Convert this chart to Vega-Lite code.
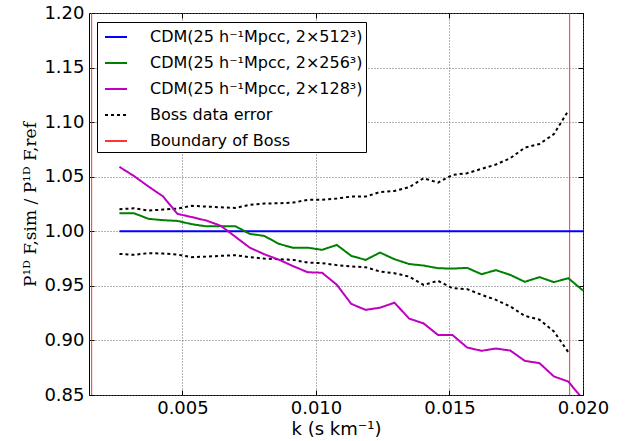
{
  "$schema": "https://vega.github.io/schema/vega-lite/v6.json",
  "width": 494,
  "height": 382,
  "autosize": {"type": "none"},
  "padding": {"left": 89, "top": 13, "right": 45, "bottom": 46},
  "background": "white",
  "config": {
    "view": {"stroke": "black", "strokeWidth": 1},
    "font": "DejaVu Sans",
    "axis": {
      "labelFont": "DejaVu Sans",
      "labelFontSize": 18,
      "labelColor": "black",
      "labelFlush": false,
      "labelOverlap": false,
      "domainColor": "black",
      "tickColor": "black",
      "gridColor": "#666666",
      "gridDash": [1, 2],
      "gridWidth": 1,
      "titleFontWeight": "normal",
      "titleColor": "black"
    }
  },
  "datasets": {
    "sim": [
      {"k":0.00264,"r":1,"s":"CDM(25 h⁻¹Mpcc, 2×512³)"},
      {"k":0.02000,"r":1,"s":"CDM(25 h⁻¹Mpcc, 2×512³)"},
      {"k":0.00264,"r":1.0166,"s":"CDM(25 h⁻¹Mpcc, 2×256³)"},
      {"k":0.00318,"r":1.0166,"s":"CDM(25 h⁻¹Mpcc, 2×256³)"},
      {"k":0.00373,"r":1.0114,"s":"CDM(25 h⁻¹Mpcc, 2×256³)"},
      {"k":0.00427,"r":1.0102,"s":"CDM(25 h⁻¹Mpcc, 2×256³)"},
      {"k":0.00481,"r":1.0095,"s":"CDM(25 h⁻¹Mpcc, 2×256³)"},
      {"k":0.00535,"r":1.0065,"s":"CDM(25 h⁻¹Mpcc, 2×256³)"},
      {"k":0.00590,"r":1.0045,"s":"CDM(25 h⁻¹Mpcc, 2×256³)"},
      {"k":0.00644,"r":1.0045,"s":"CDM(25 h⁻¹Mpcc, 2×256³)"},
      {"k":0.00698,"r":1.0047,"s":"CDM(25 h⁻¹Mpcc, 2×256³)"},
      {"k":0.00752,"r":0.9976,"s":"CDM(25 h⁻¹Mpcc, 2×256³)"},
      {"k":0.00806,"r":0.9958,"s":"CDM(25 h⁻¹Mpcc, 2×256³)"},
      {"k":0.00861,"r":0.9885,"s":"CDM(25 h⁻¹Mpcc, 2×256³)"},
      {"k":0.00915,"r":0.9848,"s":"CDM(25 h⁻¹Mpcc, 2×256³)"},
      {"k":0.00969,"r":0.9850,"s":"CDM(25 h⁻¹Mpcc, 2×256³)"},
      {"k":0.01023,"r":0.9830,"s":"CDM(25 h⁻¹Mpcc, 2×256³)"},
      {"k":0.01078,"r":0.9875,"s":"CDM(25 h⁻¹Mpcc, 2×256³)"},
      {"k":0.01132,"r":0.9775,"s":"CDM(25 h⁻¹Mpcc, 2×256³)"},
      {"k":0.01186,"r":0.9738,"s":"CDM(25 h⁻¹Mpcc, 2×256³)"},
      {"k":0.01240,"r":0.9805,"s":"CDM(25 h⁻¹Mpcc, 2×256³)"},
      {"k":0.01294,"r":0.9744,"s":"CDM(25 h⁻¹Mpcc, 2×256³)"},
      {"k":0.01349,"r":0.9700,"s":"CDM(25 h⁻¹Mpcc, 2×256³)"},
      {"k":0.01403,"r":0.9686,"s":"CDM(25 h⁻¹Mpcc, 2×256³)"},
      {"k":0.01457,"r":0.9662,"s":"CDM(25 h⁻¹Mpcc, 2×256³)"},
      {"k":0.01511,"r":0.9658,"s":"CDM(25 h⁻¹Mpcc, 2×256³)"},
      {"k":0.01566,"r":0.9665,"s":"CDM(25 h⁻¹Mpcc, 2×256³)"},
      {"k":0.01620,"r":0.9607,"s":"CDM(25 h⁻¹Mpcc, 2×256³)"},
      {"k":0.01674,"r":0.9644,"s":"CDM(25 h⁻¹Mpcc, 2×256³)"},
      {"k":0.01728,"r":0.9600,"s":"CDM(25 h⁻¹Mpcc, 2×256³)"},
      {"k":0.01782,"r":0.9537,"s":"CDM(25 h⁻¹Mpcc, 2×256³)"},
      {"k":0.01837,"r":0.9580,"s":"CDM(25 h⁻¹Mpcc, 2×256³)"},
      {"k":0.01891,"r":0.9534,"s":"CDM(25 h⁻¹Mpcc, 2×256³)"},
      {"k":0.01945,"r":0.9570,"s":"CDM(25 h⁻¹Mpcc, 2×256³)"},
      {"k":0.02000,"r":0.9457,"s":"CDM(25 h⁻¹Mpcc, 2×256³)"},
      {"k":0.00264,"r":1.0590,"s":"CDM(25 h⁻¹Mpcc, 2×128³)"},
      {"k":0.00318,"r":1.0507,"s":"CDM(25 h⁻¹Mpcc, 2×128³)"},
      {"k":0.00373,"r":1.0410,"s":"CDM(25 h⁻¹Mpcc, 2×128³)"},
      {"k":0.00427,"r":1.0320,"s":"CDM(25 h⁻¹Mpcc, 2×128³)"},
      {"k":0.00481,"r":1.0160,"s":"CDM(25 h⁻¹Mpcc, 2×128³)"},
      {"k":0.00535,"r":1.0130,"s":"CDM(25 h⁻¹Mpcc, 2×128³)"},
      {"k":0.00590,"r":1.0098,"s":"CDM(25 h⁻¹Mpcc, 2×128³)"},
      {"k":0.00644,"r":1.0050,"s":"CDM(25 h⁻¹Mpcc, 2×128³)"},
      {"k":0.00698,"r":0.9950,"s":"CDM(25 h⁻¹Mpcc, 2×128³)"},
      {"k":0.00752,"r":0.9850,"s":"CDM(25 h⁻¹Mpcc, 2×128³)"},
      {"k":0.00806,"r":0.9790,"s":"CDM(25 h⁻¹Mpcc, 2×128³)"},
      {"k":0.00861,"r":0.9740,"s":"CDM(25 h⁻¹Mpcc, 2×128³)"},
      {"k":0.00915,"r":0.9680,"s":"CDM(25 h⁻¹Mpcc, 2×128³)"},
      {"k":0.00969,"r":0.9625,"s":"CDM(25 h⁻¹Mpcc, 2×128³)"},
      {"k":0.01023,"r":0.9620,"s":"CDM(25 h⁻¹Mpcc, 2×128³)"},
      {"k":0.01078,"r":0.9510,"s":"CDM(25 h⁻¹Mpcc, 2×128³)"},
      {"k":0.01132,"r":0.9335,"s":"CDM(25 h⁻¹Mpcc, 2×128³)"},
      {"k":0.01186,"r":0.9280,"s":"CDM(25 h⁻¹Mpcc, 2×128³)"},
      {"k":0.01240,"r":0.9300,"s":"CDM(25 h⁻¹Mpcc, 2×128³)"},
      {"k":0.01294,"r":0.9346,"s":"CDM(25 h⁻¹Mpcc, 2×128³)"},
      {"k":0.01349,"r":0.9200,"s":"CDM(25 h⁻¹Mpcc, 2×128³)"},
      {"k":0.01403,"r":0.9156,"s":"CDM(25 h⁻¹Mpcc, 2×128³)"},
      {"k":0.01457,"r":0.9050,"s":"CDM(25 h⁻¹Mpcc, 2×128³)"},
      {"k":0.01511,"r":0.9050,"s":"CDM(25 h⁻¹Mpcc, 2×128³)"},
      {"k":0.01566,"r":0.8935,"s":"CDM(25 h⁻¹Mpcc, 2×128³)"},
      {"k":0.01620,"r":0.8905,"s":"CDM(25 h⁻¹Mpcc, 2×128³)"},
      {"k":0.01674,"r":0.8926,"s":"CDM(25 h⁻¹Mpcc, 2×128³)"},
      {"k":0.01728,"r":0.8907,"s":"CDM(25 h⁻¹Mpcc, 2×128³)"},
      {"k":0.01782,"r":0.8813,"s":"CDM(25 h⁻¹Mpcc, 2×128³)"},
      {"k":0.01837,"r":0.8792,"s":"CDM(25 h⁻¹Mpcc, 2×128³)"},
      {"k":0.01891,"r":0.8670,"s":"CDM(25 h⁻¹Mpcc, 2×128³)"},
      {"k":0.01945,"r":0.8623,"s":"CDM(25 h⁻¹Mpcc, 2×128³)"},
      {"k":0.02000,"r":0.8460,"s":"CDM(25 h⁻¹Mpcc, 2×128³)"}
    ],
    "boss": [
      {"k":0.00264,"r":1.0202,"g":"up","s":"Boss data error"},
      {"k":0.00318,"r":1.0211,"g":"up","s":"Boss data error"},
      {"k":0.00373,"r":1.0190,"g":"up","s":"Boss data error"},
      {"k":0.00427,"r":1.0199,"g":"up","s":"Boss data error"},
      {"k":0.00481,"r":1.0208,"g":"up","s":"Boss data error"},
      {"k":0.00535,"r":1.0233,"g":"up","s":"Boss data error"},
      {"k":0.00590,"r":1.0226,"g":"up","s":"Boss data error"},
      {"k":0.00644,"r":1.0220,"g":"up","s":"Boss data error"},
      {"k":0.00698,"r":1.0214,"g":"up","s":"Boss data error"},
      {"k":0.00752,"r":1.0242,"g":"up","s":"Boss data error"},
      {"k":0.00806,"r":1.0254,"g":"up","s":"Boss data error"},
      {"k":0.00861,"r":1.0257,"g":"up","s":"Boss data error"},
      {"k":0.00915,"r":1.0263,"g":"up","s":"Boss data error"},
      {"k":0.00969,"r":1.0288,"g":"up","s":"Boss data error"},
      {"k":0.01023,"r":1.0288,"g":"up","s":"Boss data error"},
      {"k":0.01078,"r":1.0300,"g":"up","s":"Boss data error"},
      {"k":0.01132,"r":1.0318,"g":"up","s":"Boss data error"},
      {"k":0.01186,"r":1.0318,"g":"up","s":"Boss data error"},
      {"k":0.01240,"r":1.0360,"g":"up","s":"Boss data error"},
      {"k":0.01294,"r":1.0370,"g":"up","s":"Boss data error"},
      {"k":0.01349,"r":1.0404,"g":"up","s":"Boss data error"},
      {"k":0.01403,"r":1.0486,"g":"up","s":"Boss data error"},
      {"k":0.01457,"r":1.0446,"g":"up","s":"Boss data error"},
      {"k":0.01511,"r":1.0516,"g":"up","s":"Boss data error"},
      {"k":0.01566,"r":1.0532,"g":"up","s":"Boss data error"},
      {"k":0.01620,"r":1.0572,"g":"up","s":"Boss data error"},
      {"k":0.01674,"r":1.0612,"g":"up","s":"Boss data error"},
      {"k":0.01728,"r":1.0670,"g":"up","s":"Boss data error"},
      {"k":0.01782,"r":1.0766,"g":"up","s":"Boss data error"},
      {"k":0.01837,"r":1.0800,"g":"up","s":"Boss data error"},
      {"k":0.01891,"r":1.0890,"g":"up","s":"Boss data error"},
      {"k":0.01945,"r":1.1105,"g":"up","s":"Boss data error"},
      {"k":0.00264,"r":0.9793,"g":"lo","s":"Boss data error"},
      {"k":0.00318,"r":0.9784,"g":"lo","s":"Boss data error"},
      {"k":0.00373,"r":0.9800,"g":"lo","s":"Boss data error"},
      {"k":0.00427,"r":0.9796,"g":"lo","s":"Boss data error"},
      {"k":0.00481,"r":0.9787,"g":"lo","s":"Boss data error"},
      {"k":0.00535,"r":0.9763,"g":"lo","s":"Boss data error"},
      {"k":0.00590,"r":0.9768,"g":"lo","s":"Boss data error"},
      {"k":0.00644,"r":0.9775,"g":"lo","s":"Boss data error"},
      {"k":0.00698,"r":0.9781,"g":"lo","s":"Boss data error"},
      {"k":0.00752,"r":0.9763,"g":"lo","s":"Boss data error"},
      {"k":0.00806,"r":0.9750,"g":"lo","s":"Boss data error"},
      {"k":0.00861,"r":0.9744,"g":"lo","s":"Boss data error"},
      {"k":0.00915,"r":0.9738,"g":"lo","s":"Boss data error"},
      {"k":0.00969,"r":0.9713,"g":"lo","s":"Boss data error"},
      {"k":0.01023,"r":0.9708,"g":"lo","s":"Boss data error"},
      {"k":0.01078,"r":0.9690,"g":"lo","s":"Boss data error"},
      {"k":0.01132,"r":0.9677,"g":"lo","s":"Boss data error"},
      {"k":0.01186,"r":0.9671,"g":"lo","s":"Boss data error"},
      {"k":0.01240,"r":0.9631,"g":"lo","s":"Boss data error"},
      {"k":0.01294,"r":0.9616,"g":"lo","s":"Boss data error"},
      {"k":0.01349,"r":0.9585,"g":"lo","s":"Boss data error"},
      {"k":0.01403,"r":0.9509,"g":"lo","s":"Boss data error"},
      {"k":0.01457,"r":0.9546,"g":"lo","s":"Boss data error"},
      {"k":0.01511,"r":0.9479,"g":"lo","s":"Boss data error"},
      {"k":0.01566,"r":0.9470,"g":"lo","s":"Boss data error"},
      {"k":0.01620,"r":0.9418,"g":"lo","s":"Boss data error"},
      {"k":0.01674,"r":0.9372,"g":"lo","s":"Boss data error"},
      {"k":0.01728,"r":0.9311,"g":"lo","s":"Boss data error"},
      {"k":0.01782,"r":0.9225,"g":"lo","s":"Boss data error"},
      {"k":0.01837,"r":0.9190,"g":"lo","s":"Boss data error"},
      {"k":0.01891,"r":0.9083,"g":"lo","s":"Boss data error"},
      {"k":0.01945,"r":0.8892,"g":"lo","s":"Boss data error"}
    ],
    "bound": [
      {"k":0.0016,"s":"Boundary of Boss"},
      {"k":0.0195,"s":"Boundary of Boss"}
    ]
  },
  "layer": [
    {
      "data": {"name": "bound"},
      "mark": {"type": "rule", "strokeWidth": 1},
      "encoding": {
        "x": {"field": "k", "type": "quantitative",
              "scale": {"domain": [0.0015, 0.020], "nice": false, "zero": false},
              "axis": {"orient": "top", "labels": false, "title": null, "grid": false, "domain": false,
                       "values": [0.005, 0.010, 0.015, 0.020], "tickSize": 5, "offset": -5}},
        "color": {"field": "s", "type": "nominal", "title": null,
                  "scale": {"domain": ["CDM(25 h⁻¹Mpcc, 2×512³)", "CDM(25 h⁻¹Mpcc, 2×256³)", "CDM(25 h⁻¹Mpcc, 2×128³)", "Boss data error", "Boundary of Boss"],
                            "range": ["#0000ff", "#008000", "#bf00bf", "#000000", "#ff3333"]}},
        "strokeDash": {"field": "s", "type": "nominal", "title": null,
                  "scale": {"domain": ["CDM(25 h⁻¹Mpcc, 2×512³)", "CDM(25 h⁻¹Mpcc, 2×256³)", "CDM(25 h⁻¹Mpcc, 2×128³)", "Boss data error", "Boundary of Boss"],
                            "range": [[1, 0], [1, 0], [1, 0], [3, 3], [1, 0]]}},
        "strokeWidth": {"field": "s", "type": "nominal", "title": null,
                  "scale": {"domain": ["CDM(25 h⁻¹Mpcc, 2×512³)", "CDM(25 h⁻¹Mpcc, 2×256³)", "CDM(25 h⁻¹Mpcc, 2×128³)", "Boss data error", "Boundary of Boss"],
                            "range": [2, 2, 2, 2.5, 1]}}
      }
    },
    {
      "data": {"name": "boss"},
      "mark": {"type": "line", "clip": true},
      "encoding": {
        "x": {"field": "k", "type": "quantitative", "axis": null,
              "scale": {"domain": [0.0015, 0.020], "nice": false, "zero": false}},
        "y": {"field": "r", "type": "quantitative",
              "scale": {"domain": [0.85, 1.20], "nice": false, "zero": false},
              "axis": {"orient": "right", "labels": false, "title": null, "grid": false, "domain": false,
                       "values": [0.85, 0.90, 0.95, 1.00, 1.05, 1.10, 1.15, 1.20], "tickSize": 5, "offset": -5}},
        "detail": {"field": "g", "type": "nominal"},
        "color": {"field": "s", "type": "nominal", "title": null},
        "strokeDash": {"field": "s", "type": "nominal", "title": null},
        "strokeWidth": {"field": "s", "type": "nominal", "title": null}
      }
    },
    {
      "data": {"name": "sim"},
      "mark": {"type": "line", "clip": true},
      "encoding": {
        "x": {"field": "k", "type": "quantitative",
              "scale": {"domain": [0.0015, 0.020], "nice": false, "zero": false},
              "axis": {"orient": "bottom", "title": "k (s km⁻¹)", "titleFont": "DejaVu Sans", "titleFontSize": 18,
                       "values": [0.005, 0.010, 0.015, 0.020], "format": ".3f", "tickSize": 5, "offset": -5, "labelPadding": 4,
                       "grid": true, "domain": false, "titlePadding": 3}},
        "y": {"field": "r", "type": "quantitative",
              "scale": {"domain": [0.85, 1.20], "nice": false, "zero": false},
              "axis": {"orient": "left", "title": "P¹ᴰ F,sim / P¹ᴰ F,ref", "titleFont": "DejaVu Serif", "titleFontSize": 17,
                       "values": [0.85, 0.90, 0.95, 1.00, 1.05, 1.10, 1.15, 1.20], "format": ".2f", "tickSize": 5, "offset": -5, "labelPadding": 5,
                       "grid": true, "domain": false, "titlePadding": 4}},
        "color": {"field": "s", "type": "nominal", "title": null,
                  "legend": {"orient": "none", "legendX": 8, "legendY": 9, "direction": "vertical",
                             "strokeColor": "black", "fillColor": "white", "padding": 3,
                             "symbolType": "stroke", "symbolSize": 484, "symbolStrokeWidth": 2.5, "symbolOffset": 4,
                             "labelFont": "DejaVu Sans", "labelFontSize": 16, "labelColor": "black",
                             "labelLimit": 400, "labelOffset": 22, "rowPadding": 6, "cornerRadius": 0}},
        "strokeDash": {"field": "s", "type": "nominal", "title": null},
        "strokeWidth": {"field": "s", "type": "nominal", "title": null}
      }
    }
  ],
  "resolve": {"axis": {"x": "independent", "y": "independent"}}
}
